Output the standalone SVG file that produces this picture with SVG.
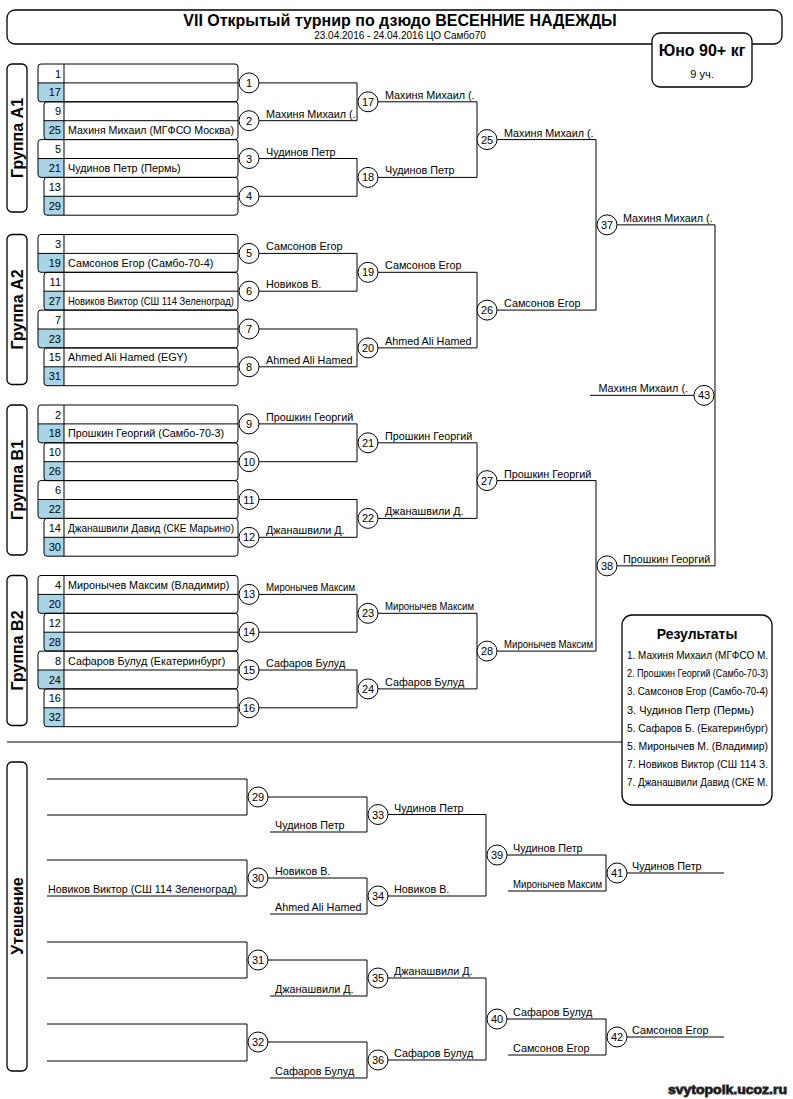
<svg xmlns="http://www.w3.org/2000/svg" width="793" height="1099" viewBox="0 0 793 1099">
<style>
text{font-family:"Liberation Sans",Arial,sans-serif;fill:#000}
.ln{fill:none;stroke:#000;stroke-width:1}
.cir{fill:#fff;stroke:#000;stroke-width:1}
.cn{font-size:11px;text-anchor:middle;dominant-baseline:central}
.lb{font-size:10.8px}
.num{font-size:11px;text-anchor:end}
.nm{font-size:10.8px}
.pb{fill:none;stroke:#000;stroke-width:1}
.pl{fill:none;stroke:#000;stroke-width:1}
.blue{fill:#a8d4e6}
.gb{fill:#fff;stroke:#000;stroke-width:1.3}
.gt{font-size:16px;font-weight:bold;text-anchor:middle;dominant-baseline:central}
.ri{font-size:11px}
</style>
<rect width="793" height="1099" fill="#fff"/>

<g id="header">
<rect x="7" y="10" width="775" height="34" rx="8" class="gb"/>
<text x="400" y="26" font-size="16" font-weight="bold" text-anchor="middle">VII Открытый турнир по дзюдо ВЕСЕННИЕ НАДЕЖДЫ</text>
<text x="400" y="38.5" font-size="10" text-anchor="middle">23.04.2016 - 24.04.2016 ЦО Самбо70</text>
</g>
<g id="weight">
<rect x="652" y="33" width="100" height="54" rx="8" class="gb"/>
<text x="702" y="56" font-size="16" font-weight="bold" text-anchor="middle">Юно 90+ кг</text>
<text x="702" y="78" font-size="11" text-anchor="middle">9 уч.</text>
</g>

<g id="groupA1">
<rect x="7" y="64" width="20" height="148" rx="5" class="gb"/>
<text class="gt" transform="translate(17,138) rotate(-90)">Группа А1</text>
<path class="blue" d="M38,82.9H64V101.8H41Q38,101.8 38,98.8Z"/>
<rect class="pb" x="38" y="64" width="200" height="37.8" rx="3"/>
<path class="pl" d="M38,82.9H238M64,64V101.8"/>
<path class="blue" d="M44,120.7H64V139.6H47Q44,139.6 44,136.6Z"/>
<rect class="pb" x="44" y="101.8" width="194" height="37.8" rx="3"/>
<path class="pl" d="M44,120.7H238M64,101.8V139.6"/>
<path class="blue" d="M38,158.5H64V177.4H41Q38,177.4 38,174.4Z"/>
<rect class="pb" x="38" y="139.6" width="200" height="37.8" rx="3"/>
<path class="pl" d="M38,158.5H238M64,139.6V177.4"/>
<path class="blue" d="M44,196.3H64V215.2H47Q44,215.2 44,212.2Z"/>
<rect class="pb" x="44" y="177.4" width="194" height="37.8" rx="3"/>
<path class="pl" d="M44,196.3H238M64,177.4V215.2"/>
<text class="num" x="61" y="77.5">1</text>
<text class="num" x="61" y="96.4">17</text>
<text class="num" x="61" y="115.3">9</text>
<text class="num" x="61" y="134.2">25</text>
<text class="num" x="61" y="153.1">5</text>
<text class="num" x="61" y="172">21</text>
<text class="num" x="61" y="190.9">13</text>
<text class="num" x="61" y="209.8">29</text>
<text class="nm" x="68" y="134.2" textLength="166" lengthAdjust="spacingAndGlyphs">Махиня Михаил (МГФСО Москва)</text>
<text class="nm" x="68" y="172">Чудинов Петр (Пермь)</text>
</g>

<g id="groupA2">
<rect x="7" y="234.5" width="20" height="150" rx="5" class="gb"/>
<text class="gt" transform="translate(17,309.5) rotate(-90)">Группа А2</text>
<path class="blue" d="M38,253.4H64V272.3H41Q38,272.3 38,269.3Z"/>
<rect class="pb" x="38" y="234.5" width="200" height="37.8" rx="3"/>
<path class="pl" d="M38,253.4H238M64,234.5V272.3"/>
<path class="blue" d="M44,291.2H64V310.1H47Q44,310.1 44,307.1Z"/>
<rect class="pb" x="44" y="272.3" width="194" height="37.8" rx="3"/>
<path class="pl" d="M44,291.2H238M64,272.3V310.1"/>
<path class="blue" d="M38,329H64V347.9H41Q38,347.9 38,344.9Z"/>
<rect class="pb" x="38" y="310.1" width="200" height="37.8" rx="3"/>
<path class="pl" d="M38,329H238M64,310.1V347.9"/>
<path class="blue" d="M44,366.8H64V385.7H47Q44,385.7 44,382.7Z"/>
<rect class="pb" x="44" y="347.9" width="194" height="37.8" rx="3"/>
<path class="pl" d="M44,366.8H238M64,347.9V385.7"/>
<text class="num" x="61" y="248">3</text>
<text class="num" x="61" y="266.9">19</text>
<text class="num" x="61" y="285.8">11</text>
<text class="num" x="61" y="304.7">27</text>
<text class="num" x="61" y="323.6">7</text>
<text class="num" x="61" y="342.5">23</text>
<text class="num" x="61" y="361.4">15</text>
<text class="num" x="61" y="380.3">31</text>
<text class="nm" x="68" y="266.9">Самсонов Егор (Самбо-70-4)</text>
<text class="nm" x="68" y="304.7" textLength="166" lengthAdjust="spacingAndGlyphs">Новиков Виктор (СШ 114 Зеленоград)</text>
<text class="nm" x="68" y="361.4">Ahmed Ali Hamed (EGY)</text>
</g>

<g id="groupB1">
<rect x="7" y="405" width="20" height="150" rx="5" class="gb"/>
<text class="gt" transform="translate(17,480) rotate(-90)">Группа В1</text>
<path class="blue" d="M38,423.9H64V442.8H41Q38,442.8 38,439.8Z"/>
<rect class="pb" x="38" y="405" width="200" height="37.8" rx="3"/>
<path class="pl" d="M38,423.9H238M64,405V442.8"/>
<path class="blue" d="M44,461.7H64V480.6H47Q44,480.6 44,477.6Z"/>
<rect class="pb" x="44" y="442.8" width="194" height="37.8" rx="3"/>
<path class="pl" d="M44,461.7H238M64,442.8V480.6"/>
<path class="blue" d="M38,499.5H64V518.4H41Q38,518.4 38,515.4Z"/>
<rect class="pb" x="38" y="480.6" width="200" height="37.8" rx="3"/>
<path class="pl" d="M38,499.5H238M64,480.6V518.4"/>
<path class="blue" d="M44,537.3H64V556.2H47Q44,556.2 44,553.2Z"/>
<rect class="pb" x="44" y="518.4" width="194" height="37.8" rx="3"/>
<path class="pl" d="M44,537.3H238M64,518.4V556.2"/>
<text class="num" x="61" y="418.5">2</text>
<text class="num" x="61" y="437.4">18</text>
<text class="num" x="61" y="456.3">10</text>
<text class="num" x="61" y="475.2">26</text>
<text class="num" x="61" y="494.1">6</text>
<text class="num" x="61" y="513">22</text>
<text class="num" x="61" y="531.9">14</text>
<text class="num" x="61" y="550.8">30</text>
<text class="nm" x="68" y="437.4">Прошкин Георгий (Самбо-70-3)</text>
<text class="nm" x="68" y="531.9" textLength="166" lengthAdjust="spacingAndGlyphs">Джанашвили Давид (СКЕ Марьино)</text>
</g>

<g id="groupB2">
<rect x="7" y="575.5" width="20" height="150" rx="5" class="gb"/>
<text class="gt" transform="translate(17,650.5) rotate(-90)">Группа В2</text>
<path class="blue" d="M38,594.4H64V613.3H41Q38,613.3 38,610.3Z"/>
<rect class="pb" x="38" y="575.5" width="200" height="37.8" rx="3"/>
<path class="pl" d="M38,594.4H238M64,575.5V613.3"/>
<path class="blue" d="M44,632.2H64V651.1H47Q44,651.1 44,648.1Z"/>
<rect class="pb" x="44" y="613.3" width="194" height="37.8" rx="3"/>
<path class="pl" d="M44,632.2H238M64,613.3V651.1"/>
<path class="blue" d="M38,670H64V688.9H41Q38,688.9 38,685.9Z"/>
<rect class="pb" x="38" y="651.1" width="200" height="37.8" rx="3"/>
<path class="pl" d="M38,670H238M64,651.1V688.9"/>
<path class="blue" d="M44,707.8H64V726.7H47Q44,726.7 44,723.7Z"/>
<rect class="pb" x="44" y="688.9" width="194" height="37.8" rx="3"/>
<path class="pl" d="M44,707.8H238M64,688.9V726.7"/>
<text class="num" x="61" y="589">4</text>
<text class="num" x="61" y="607.9">20</text>
<text class="num" x="61" y="626.8">12</text>
<text class="num" x="61" y="645.7">28</text>
<text class="num" x="61" y="664.6">8</text>
<text class="num" x="61" y="683.5">24</text>
<text class="num" x="61" y="702.4">16</text>
<text class="num" x="61" y="721.3">32</text>
<text class="nm" x="68" y="589">Миронычев Максим (Владимир)</text>
<text class="nm" x="68" y="664.6">Сафаров Булуд (Екатеринбург)</text>
</g>

<g id="consolationLabel">
<rect x="7" y="762" width="20" height="309" rx="5" class="gb"/>
<text class="gt" transform="translate(17,916) rotate(-90)">Утешение</text>
</g>

<g id="connectors">
<path class="ln" d="M259,82.9H357V120.7H259M259,158.5H357V196.3H259M378,101.8H477V177.4H378M497,139.6H596V310.1H497"/>
<path class="ln" d="M259,253.4H357V291.2H259M259,329H357V366.8H259M378,272.3H477V347.9H378"/>
<path class="ln" d="M259,423.9H357V461.7H259M259,499.5H357V537.3H259M378,442.8H477V518.4H378M497,480.6H596V651.1H497"/>
<path class="ln" d="M259,594.4H357V632.2H259M259,670H357V707.8H259M378,613.3H477V688.9H378"/>
<path class="ln" d="M617,224.85H715V565.85H617M590,395.35H694"/>
<path class="ln" d="M7,742H622"/>
<path class="ln" d="M47,779H247V815H47M268,797H367V832H270M47,860H247V896H47M268,878H367V914H270M388,814.5H486V896H388M507,855H606V891H508M627,873H724"/>
<path class="ln" d="M47,942H247V978H47M268,960H367V996H270M47,1024H247V1061H47M268,1042H367V1078H270M388,978H486V1060H388M507,1019H606V1055H508M627,1037H724"/>
</g>

<g id="labels">
<text class="lb" x="266" y="117.7">Махиня Михаил (.</text>
<text class="lb" x="266" y="155.5">Чудинов Петр</text>
<text class="lb" x="266" y="250.4">Самсонов Егор</text>
<text class="lb" x="266" y="288.2">Новиков В.</text>
<text class="lb" x="266" y="363.8">Ahmed Ali Hamed</text>
<text class="lb" x="266" y="420.9">Прошкин Георгий</text>
<text class="lb" x="266" y="534.3">Джанашвили Д.</text>
<text class="lb" x="266" y="591.4" textLength="89" lengthAdjust="spacingAndGlyphs">Миронычев Максим</text>
<text class="lb" x="266" y="667">Сафаров Булуд</text>
<text class="lb" x="385" y="98.8">Махиня Михаил (.</text>
<text class="lb" x="385" y="174.4">Чудинов Петр</text>
<text class="lb" x="385" y="269.3">Самсонов Егор</text>
<text class="lb" x="385" y="344.9">Ahmed Ali Hamed</text>
<text class="lb" x="385" y="439.8">Прошкин Георгий</text>
<text class="lb" x="385" y="515.4">Джанашвили Д.</text>
<text class="lb" x="385" y="610.3" textLength="89" lengthAdjust="spacingAndGlyphs">Миронычев Максим</text>
<text class="lb" x="385" y="685.9">Сафаров Булуд</text>
<text class="lb" x="504" y="136.6">Махиня Михаил (.</text>
<text class="lb" x="504" y="307.1">Самсонов Егор</text>
<text class="lb" x="504" y="477.6">Прошкин Георгий</text>
<text class="lb" x="504" y="648.1" textLength="89" lengthAdjust="spacingAndGlyphs">Миронычев Максим</text>
<text class="lb" x="623" y="221.85">Махиня Михаил (.</text>
<text class="lb" x="623" y="562.85">Прошкин Георгий</text>
<text class="lb" x="688" y="392.35" text-anchor="end">Махиня Михаил (.</text>
<text class="lb" x="275" y="829">Чудинов Петр</text>
<text class="lb" x="48" y="893" textLength="189" lengthAdjust="spacingAndGlyphs">Новиков Виктор (СШ 114 Зеленоград)</text>
<text class="lb" x="275" y="875">Новиков В.</text>
<text class="lb" x="275" y="911">Ahmed Ali Hamed</text>
<text class="lb" x="394" y="811.5">Чудинов Петр</text>
<text class="lb" x="394" y="893">Новиков В.</text>
<text class="lb" x="513" y="852">Чудинов Петр</text>
<text class="lb" x="513" y="888" textLength="89" lengthAdjust="spacingAndGlyphs">Миронычев Максим</text>
<text class="lb" x="632" y="870">Чудинов Петр</text>
<text class="lb" x="275" y="993">Джанашвили Д.</text>
<text class="lb" x="275" y="1075">Сафаров Булуд</text>
<text class="lb" x="394" y="975">Джанашвили Д.</text>
<text class="lb" x="394" y="1057">Сафаров Булуд</text>
<text class="lb" x="513" y="1016">Сафаров Булуд</text>
<text class="lb" x="513" y="1052">Самсонов Егор</text>
<text class="lb" x="632" y="1034">Самсонов Егор</text>
</g>

<g id="matches">
<g id="m1"><circle class="cir" cx="249" cy="82.9" r="10"/><text class="cn" x="249" y="82.9">1</text></g>
<g id="m2"><circle class="cir" cx="249" cy="120.7" r="10"/><text class="cn" x="249" y="120.7">2</text></g>
<g id="m3"><circle class="cir" cx="249" cy="158.5" r="10"/><text class="cn" x="249" y="158.5">3</text></g>
<g id="m4"><circle class="cir" cx="249" cy="196.3" r="10"/><text class="cn" x="249" y="196.3">4</text></g>
<g id="m5"><circle class="cir" cx="249" cy="253.4" r="10"/><text class="cn" x="249" y="253.4">5</text></g>
<g id="m6"><circle class="cir" cx="249" cy="291.2" r="10"/><text class="cn" x="249" y="291.2">6</text></g>
<g id="m7"><circle class="cir" cx="249" cy="329" r="10"/><text class="cn" x="249" y="329">7</text></g>
<g id="m8"><circle class="cir" cx="249" cy="366.8" r="10"/><text class="cn" x="249" y="366.8">8</text></g>
<g id="m9"><circle class="cir" cx="249" cy="423.9" r="10"/><text class="cn" x="249" y="423.9">9</text></g>
<g id="m10"><circle class="cir" cx="249" cy="461.7" r="10"/><text class="cn" x="249" y="461.7">10</text></g>
<g id="m11"><circle class="cir" cx="249" cy="499.5" r="10"/><text class="cn" x="249" y="499.5">11</text></g>
<g id="m12"><circle class="cir" cx="249" cy="537.3" r="10"/><text class="cn" x="249" y="537.3">12</text></g>
<g id="m13"><circle class="cir" cx="249" cy="594.4" r="10"/><text class="cn" x="249" y="594.4">13</text></g>
<g id="m14"><circle class="cir" cx="249" cy="632.2" r="10"/><text class="cn" x="249" y="632.2">14</text></g>
<g id="m15"><circle class="cir" cx="249" cy="670" r="10"/><text class="cn" x="249" y="670">15</text></g>
<g id="m16"><circle class="cir" cx="249" cy="707.8" r="10"/><text class="cn" x="249" y="707.8">16</text></g>
<g id="m17"><circle class="cir" cx="368" cy="101.8" r="10"/><text class="cn" x="368" y="101.8">17</text></g>
<g id="m18"><circle class="cir" cx="368" cy="177.4" r="10"/><text class="cn" x="368" y="177.4">18</text></g>
<g id="m19"><circle class="cir" cx="368" cy="272.3" r="10"/><text class="cn" x="368" y="272.3">19</text></g>
<g id="m20"><circle class="cir" cx="368" cy="347.9" r="10"/><text class="cn" x="368" y="347.9">20</text></g>
<g id="m21"><circle class="cir" cx="368" cy="442.8" r="10"/><text class="cn" x="368" y="442.8">21</text></g>
<g id="m22"><circle class="cir" cx="368" cy="518.4" r="10"/><text class="cn" x="368" y="518.4">22</text></g>
<g id="m23"><circle class="cir" cx="368" cy="613.3" r="10"/><text class="cn" x="368" y="613.3">23</text></g>
<g id="m24"><circle class="cir" cx="368" cy="688.9" r="10"/><text class="cn" x="368" y="688.9">24</text></g>
<g id="m25"><circle class="cir" cx="487" cy="139.6" r="10"/><text class="cn" x="487" y="139.6">25</text></g>
<g id="m26"><circle class="cir" cx="487" cy="310.1" r="10"/><text class="cn" x="487" y="310.1">26</text></g>
<g id="m27"><circle class="cir" cx="487" cy="480.6" r="10"/><text class="cn" x="487" y="480.6">27</text></g>
<g id="m28"><circle class="cir" cx="487" cy="651.1" r="10"/><text class="cn" x="487" y="651.1">28</text></g>
<g id="m37"><circle class="cir" cx="607" cy="224.85" r="10"/><text class="cn" x="607" y="224.85">37</text></g>
<g id="m38"><circle class="cir" cx="607" cy="565.85" r="10"/><text class="cn" x="607" y="565.85">38</text></g>
<g id="m43"><circle class="cir" cx="704" cy="395.35" r="10"/><text class="cn" x="704" y="395.35">43</text></g>
<g id="m29"><circle class="cir" cx="258" cy="797" r="10"/><text class="cn" x="258" y="797">29</text></g>
<g id="m30"><circle class="cir" cx="258" cy="878" r="10"/><text class="cn" x="258" y="878">30</text></g>
<g id="m31"><circle class="cir" cx="258" cy="960" r="10"/><text class="cn" x="258" y="960">31</text></g>
<g id="m32"><circle class="cir" cx="258" cy="1042" r="10"/><text class="cn" x="258" y="1042">32</text></g>
<g id="m33"><circle class="cir" cx="378" cy="814.5" r="10"/><text class="cn" x="378" y="814.5">33</text></g>
<g id="m34"><circle class="cir" cx="378" cy="896" r="10"/><text class="cn" x="378" y="896">34</text></g>
<g id="m35"><circle class="cir" cx="378" cy="978" r="10"/><text class="cn" x="378" y="978">35</text></g>
<g id="m36"><circle class="cir" cx="378" cy="1060" r="10"/><text class="cn" x="378" y="1060">36</text></g>
<g id="m39"><circle class="cir" cx="497" cy="855" r="10"/><text class="cn" x="497" y="855">39</text></g>
<g id="m40"><circle class="cir" cx="497" cy="1019" r="10"/><text class="cn" x="497" y="1019">40</text></g>
<g id="m41"><circle class="cir" cx="617" cy="873" r="10"/><text class="cn" x="617" y="873">41</text></g>
<g id="m42"><circle class="cir" cx="617" cy="1037" r="10"/><text class="cn" x="617" y="1037">42</text></g>
</g>

<g id="results">
<rect x="622" y="615" width="150" height="190" rx="10" class="gb"/>
<text x="697" y="639" font-size="14" font-weight="bold" text-anchor="middle">Результаты</text>
<text class="ri" x="627" y="659" textLength="141" lengthAdjust="spacingAndGlyphs">1. Махиня Михаил (МГФСО М.</text>
<text class="ri" x="627" y="677" textLength="141" lengthAdjust="spacingAndGlyphs">2. Прошкин Георгий (Самбо-70-3)</text>
<text class="ri" x="627" y="695" textLength="141" lengthAdjust="spacingAndGlyphs">3. Самсонов Егор (Самбо-70-4)</text>
<text class="ri" x="627" y="713.6">3. Чудинов Петр (Пермь)</text>
<text class="ri" x="627" y="731.7" textLength="141" lengthAdjust="spacingAndGlyphs">5. Сафаров Б. (Екатеринбург)</text>
<text class="ri" x="627" y="749.8" textLength="141" lengthAdjust="spacingAndGlyphs">5. Миронычев М. (Владимир)</text>
<text class="ri" x="627" y="767.9" textLength="141" lengthAdjust="spacingAndGlyphs">7. Новиков Виктор (СШ 114 З.</text>
<text class="ri" x="627" y="786" textLength="141" lengthAdjust="spacingAndGlyphs">7. Джанашвили Давид (СКЕ М.</text>
</g>

<g id="watermark">
<text x="668" y="1094" font-family="DejaVu Sans, sans-serif" font-size="13" font-weight="bold" fill="#fff" stroke="#333" stroke-width="0.9" textLength="119" lengthAdjust="spacingAndGlyphs">svytopolk.ucoz.ru</text>
</g>
</svg>
